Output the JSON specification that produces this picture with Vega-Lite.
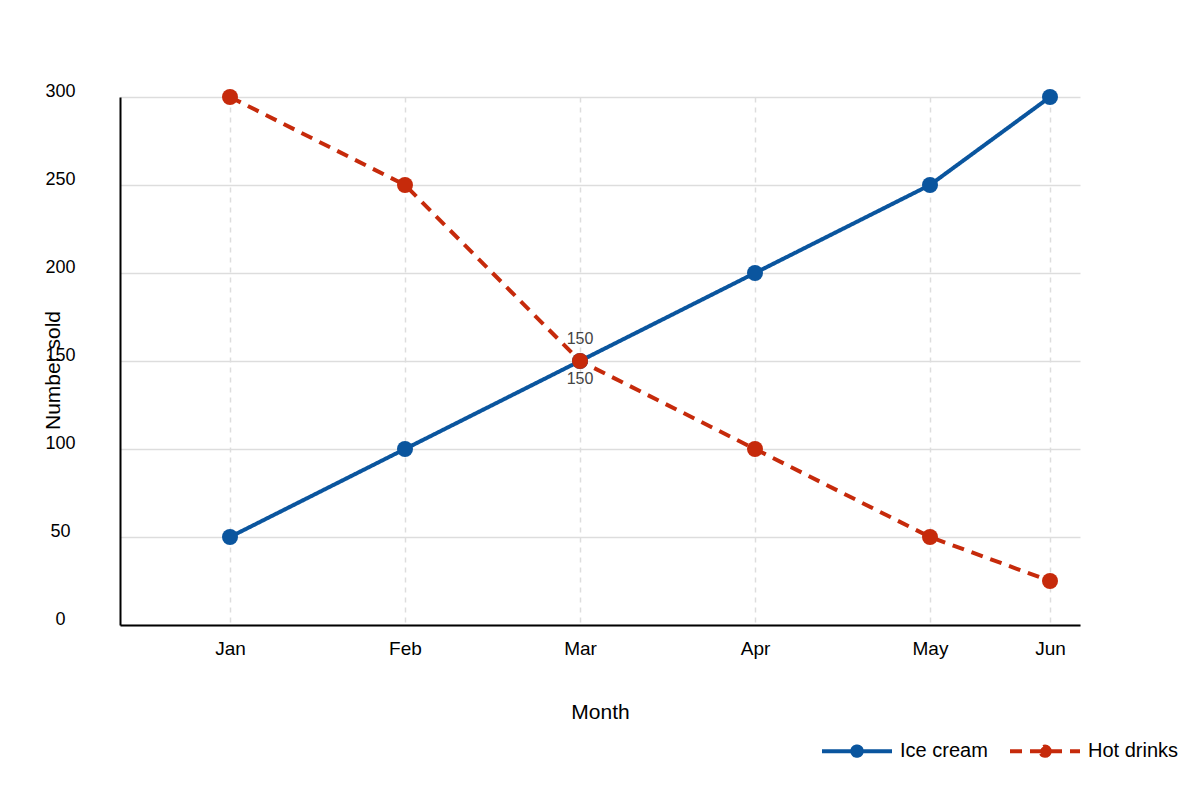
{
  "$schema": "https://vega.github.io/schema/vega-lite/v6.json",
  "autosize": {"type": "none"},
  "padding": {"left": 120, "top": 97, "right": 120, "bottom": 175},
  "width": 960,
  "height": 528,
  "data": {
    "values": [
      {"month": 1, "series": "Ice cream", "sold": 50},
      {"month": 2, "series": "Ice cream", "sold": 100},
      {"month": 3, "series": "Ice cream", "sold": 150},
      {"month": 4, "series": "Ice cream", "sold": 200},
      {"month": 5, "series": "Ice cream", "sold": 250},
      {"month": 6, "series": "Ice cream", "sold": 300},
      {"month": 1, "series": "Hot drinks", "sold": 300},
      {"month": 2, "series": "Hot drinks", "sold": 250},
      {"month": 3, "series": "Hot drinks", "sold": 150},
      {"month": 4, "series": "Hot drinks", "sold": 100},
      {"month": 5, "series": "Hot drinks", "sold": 50},
      {"month": 6, "series": "Hot drinks", "sold": 25}
    ]
  },
  "encoding": {
    "x": {
      "field": "month",
      "type": "quantitative",
      "title": "Month",
      "scale": {"domain": [0.37143, 5, 6.25], "range": [0, 810, 960], "nice": false, "zero": false},
      "axis": {
        "values": [1, 2, 3, 4, 5, 6],
        "labelExpr": "['', 'Jan', 'Feb', 'Mar', 'Apr', 'May', 'Jun'][datum.value]",
        "labelFontSize": 19,
        "labelBaseline": "middle",
        "labelPadding": 23,
        "labelFlush": false,
        "labelOverlap": false,
        "ticks": false,
        "tickSize": 0,
        "domainColor": "#000000",
        "domainWidth": 2,
        "gridColor": "#dddddd",
        "gridWidth": 1.5,
        "gridDash": [5, 5],
        "titleFontSize": 21,
        "titleFontWeight": "normal",
        "titleBaseline": "middle",
        "titleY": 87
      }
    },
    "y": {
      "field": "sold",
      "type": "quantitative",
      "title": "Number sold",
      "scale": {"domain": [0, 300], "nice": false},
      "axis": {
        "values": [0, 50, 100, 150, 200, 250, 300],
        "labelFontSize": 18,
        "labelAlign": "center",
        "labelBaseline": "middle",
        "labelPadding": 60,
        "labelOffset": -6,
        "labelFlush": false,
        "labelOverlap": false,
        "ticks": false,
        "tickSize": 0,
        "domainColor": "#000000",
        "domainWidth": 2,
        "gridColor": "#dddddd",
        "gridWidth": 1.5,
        "titleFontSize": 21,
        "titleFontWeight": "normal",
        "titleAlign": "center",
        "titleBaseline": "middle",
        "titleX": -67,
        "titleY": 273
      }
    },
    "color": {
      "field": "series",
      "type": "nominal",
      "scale": {"domain": ["Ice cream", "Hot drinks"], "range": ["#0a559e", "#c62a0b"]},
      "legend": {
        "title": null,
        "orient": "none",
        "direction": "horizontal",
        "legendX": 700,
        "legendY": 617,
        "padding": 0,
        "symbolType": "M-1,0L1,0M0.135,0A0.135,0.135,0,1,1,-0.135,0A0.135,0.135,0,1,1,0.135,0Z",
        "symbolSize": 4900,
        "symbolStrokeWidth": 4,
        "symbolOpacity": 1,
        "labelFontSize": 20,
        "labelColor": "#000000",
        "labelOffset": 6,
        "columnPadding": 14
      }
    }
  },
  "layer": [
    {
      "mark": {"type": "line", "strokeWidth": 4},
      "encoding": {
        "strokeDash": {
          "field": "series",
          "type": "nominal",
          "scale": {"domain": ["Ice cream", "Hot drinks"], "range": [[1, 0], [12, 8]]},
          "legend": {
            "title": null,
            "orient": "none",
            "direction": "horizontal",
            "legendX": 700,
            "legendY": 617,
            "padding": 0,
            "symbolType": "M-1,0L1,0M0.135,0A0.135,0.135,0,1,1,-0.135,0A0.135,0.135,0,1,1,0.135,0Z",
            "symbolSize": 4900,
            "symbolStrokeWidth": 4,
            "labelFontSize": 20,
            "labelColor": "#000000",
            "labelOffset": 6,
            "columnPadding": 14
          }
        }
      }
    },
    {
      "mark": {"type": "circle", "size": 256, "opacity": 1}
    },
    {
      "transform": [{"filter": "datum.month == 3 && datum.series == 'Ice cream'"}],
      "mark": {"type": "text", "dy": -22, "fontSize": 16, "baseline": "middle"},
      "encoding": {"text": {"field": "sold", "type": "quantitative"}, "color": {"value": "#444444"}}
    },
    {
      "transform": [{"filter": "datum.month == 3 && datum.series == 'Hot drinks'"}],
      "mark": {"type": "text", "dy": 18, "fontSize": 16, "baseline": "middle"},
      "encoding": {"text": {"field": "sold", "type": "quantitative"}, "color": {"value": "#444444"}}
    }
  ],
  "config": {
    "font": "Liberation Sans",
    "view": {"stroke": null},
    "axis": {"labelColor": "#000000", "titleColor": "#000000"}
  }
}
